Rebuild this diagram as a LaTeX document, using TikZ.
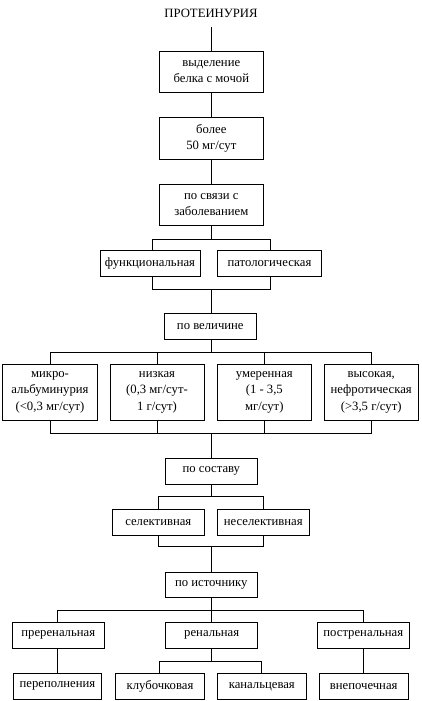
\documentclass[tikz,border=0pt]{standalone}
\usepackage{fontspec}
\setmainfont{Liberation Serif}
\begin{document}
\begin{tikzpicture}[x=1pt,y=-1pt,
  box/.style={draw,line width=0.8pt,align=center,inner sep=0pt,font=\fontsize{12.7}{16.5}\selectfont},
  ln/.style={line width=0.8pt}]
\useasboundingbox (0,0) rectangle (421,701);
\node[font=\fontsize{12.7}{15}\selectfont,inner sep=1pt] (t) at (211,13) {ПРОТЕИНУРИЯ};
\node[box,minimum width=104,minimum height=41.3] (b1) at (211.3,71.7) {выделение\\белка с мочой};
\node[box,minimum width=104,minimum height=41.7] (b2) at (211.3,138.2) {более\\50 мг/сут};
\node[box,minimum width=104,minimum height=41] (b3) at (211.3,204.8) {по связи с\\заболеванием};
\node[box,minimum width=100,minimum height=26] (f1) at (150,263.7) {функциональная};
\node[box,minimum width=104.4,minimum height=26] (f2) at (269.5,263.7) {патологическая};
\node[box,minimum width=92.7,minimum height=25.7] (vel) at (210.3,326.2) {по величине};
\node[box,minimum width=94.6,minimum height=56.7] (m1) at (50,392.3) {микро-\\альбуминурия\\(<0,3 мг/сут)};
\node[box,minimum width=94,minimum height=56.7] (m2) at (157,392.3) {низкая\\(0,3 мг/сут-\\1 г/сут)};
\node[box,minimum width=94,minimum height=56.7] (m3) at (264.3,392.3) {умеренная\\(1 - 3,5\\мг/сут)};
\node[box,minimum width=94.3,minimum height=56.7] (m4) at (371.2,392.3) {высокая,\\нефротическая\\(>3,5 г/сут)};
\node[box,minimum width=92,minimum height=25.7] (sost) at (211.3,471.2) {по составу};
\node[box,minimum width=92,minimum height=26] (s1) at (158.3,522.3) {селективная};
\node[box,minimum width=92,minimum height=26] (s2) at (263.3,522.3) {неселективная};
\node[box,minimum width=92,minimum height=25] (ist) at (211.3,584.7) {по источнику};
\node[box,minimum width=92,minimum height=26] (p1) at (58.3,635.3) {преренальная};
\node[box,minimum width=92,minimum height=26] (p2) at (211.7,635.3) {ренальная};
\node[box,minimum width=92,minimum height=26] (p3) at (363.3,635.3) {постренальная};
\node[box,minimum width=88.4,minimum height=26] (q1) at (57.5,686.3) {переполнения};
\node[box,minimum width=88.6,minimum height=26] (q2) at (160,686.3) {клубочковая};
\node[box,minimum width=88.3,minimum height=26] (q3) at (261.8,686.3) {канальцевая};
\node[box,minimum width=89.3,minimum height=26] (q4) at (363.7,686.3) {внепочечная};
% coordinates
\coordinate (t0) at (211.3,27);
\coordinate (aL) at (152.3,239);   \coordinate (aR) at (270,239);
\coordinate (cL) at (152.3,289.3); \coordinate (cR) at (270,289.3);
\coordinate (d1) at (50,352.3); \coordinate (d2) at (157.3,352.3); \coordinate (d3) at (264.3,352.3); \coordinate (d4) at (371,352.3);
\coordinate (e1) at (50,433.3); \coordinate (e2) at (157.3,433.3); \coordinate (e3) at (264.3,433.3); \coordinate (e4) at (371,433.3);
\coordinate (gL) at (158.7,496.7); \coordinate (gR) at (263.3,496.7);
\coordinate (hL) at (158.7,546.7); \coordinate (hR) at (263.3,546.7);
\coordinate (kL) at (57.7,610.7); \coordinate (kR) at (363.3,610.7);
\coordinate (rL) at (159.3,661.7); \coordinate (rR) at (261.7,661.7);
% connectors
\draw[ln] (t0) -- (b1.north);
\draw[ln] (b1) -- (b2);
\draw[ln] (b2) -- (b3);
\draw[ln] (b3.south) -- (b3.south |- aL);
\draw[ln] (aL |- f1.north) -- (aL) -- (aR) -- (aR |- f2.north);
\draw[ln] (cL |- f1.south) -- (cL) -- (cR) -- (cR |- f2.south);
\draw[ln] (vel.north -| 211.7,0) -- (211.7,289.3);
\draw[ln] (vel.south -| 211,0) -- (211,352.3);
\draw[ln] (d1 |- m1.north) -- (d1) -- (d4) -- (d4 |- m4.north);
\draw[ln] (d2) -- (d2 |- m2.north);
\draw[ln] (d3) -- (d3 |- m3.north);
\draw[ln] (e1 |- m1.south) -- (e1) -- (e4) -- (e4 |- m4.south);
\draw[ln] (e2) -- (e2 |- m2.south);
\draw[ln] (e3) -- (e3 |- m3.south);
\draw[ln] (sost.north -| 211,0) -- (211,433.3);
\draw[ln] (sost.south -| 211,0) -- (211,496.7);
\draw[ln] (gL |- s1.north) -- (gL) -- (gR) -- (gR |- s2.north);
\draw[ln] (hL |- s1.south) -- (hL) -- (hR) -- (hR |- s2.south);
\draw[ln] (ist.north -| 211,0) -- (211,546.7);
\draw[ln] (ist.south -| 211,0) -- (211,610.7);
\draw[ln] (kL |- p1.north) -- (kL) -- (kR) -- (kR |- p3.north);
\draw[ln] (211,610.7) -- (p2.north -| 211,0);
\draw[ln] (p1.south -| kL) -- (q1.north -| kL);
\draw[ln] (p3.south -| kR) -- (q4.north -| kR);
\draw[ln] (p2.south -| 211,0) -- (211,661.7);
\draw[ln] (rL |- q2.north) -- (rL) -- (rR) -- (rR |- q3.north);
\end{tikzpicture}
\end{document}
